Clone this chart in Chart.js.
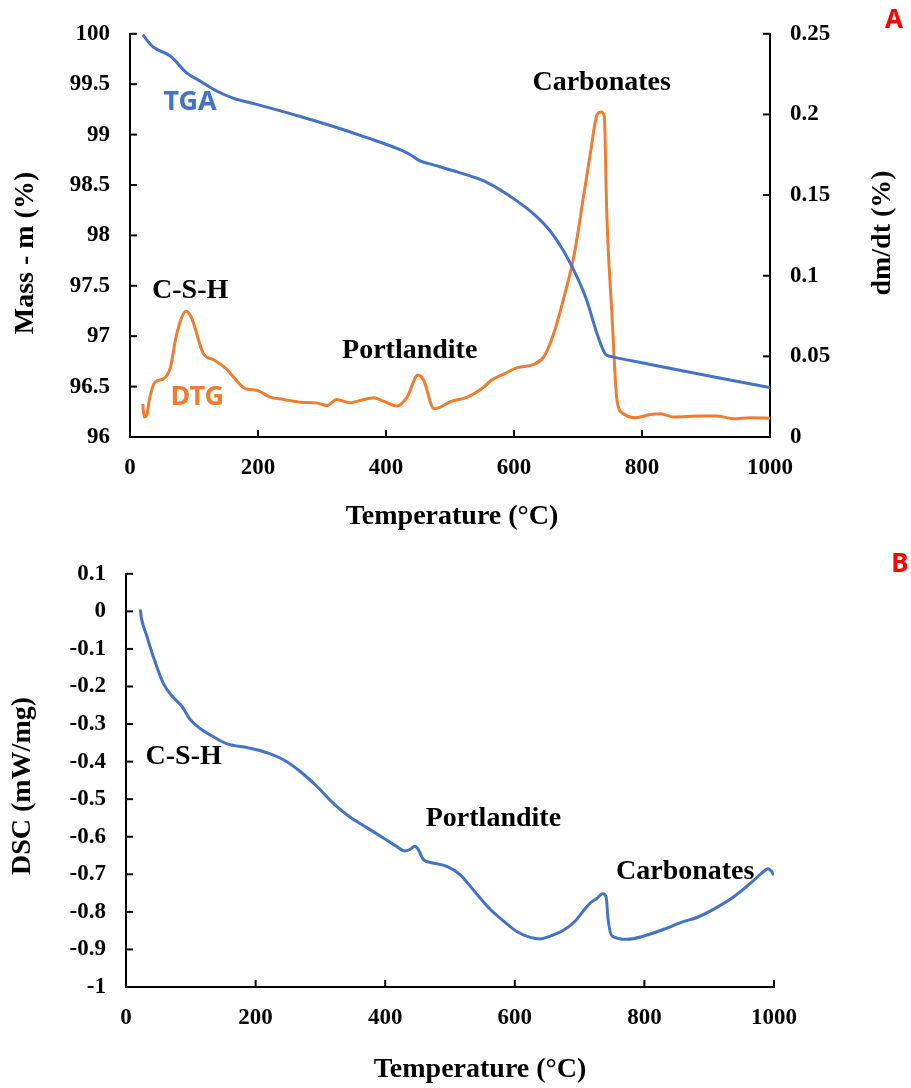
<!DOCTYPE html>
<html>
<head>
  <title>TGA / DTG / DSC</title>
  <style>
    body { margin: 0; background: #fff; }
    #chartA { position: absolute; left: 0; top: 0; }
    #chartB { position: absolute; left: 0; top: 540px; }
  </style>
</head>
<body>
  <canvas id="chartA" width="911" height="540"></canvas>
  <canvas id="chartB" width="911" height="548"></canvas>

  <script src="https://cdn.jsdelivr.net/npm/chart.js"></script>
  <script>
    // TGA curve (mass %, left axis)
    const tgaTemp = [20, 36, 63, 89, 110, 136, 162, 198, 266, 318, 370, 422, 438, 453, 474, 516,
      553, 605, 631, 657, 678, 699, 714, 730, 743, 751, 813, 917, 1000];
    const tgaMass = [99.99, 99.87, 99.78, 99.61, 99.53, 99.43, 99.36, 99.30, 99.18, 99.08, 98.97, 98.85, 98.80, 98.74, 98.70, 98.62,
      98.54, 98.34, 98.21, 98.04, 97.84, 97.58, 97.35, 97.02, 96.82, 96.80, 96.72, 96.59, 96.49];

    // DTG curve (dm/dt %, right axis)
    const dtgTemp = [20, 22, 26, 31, 39, 52, 63, 73, 88, 96, 115, 130, 151, 162, 180, 198, 219, 240, 266, 292,
      308, 323, 344, 360, 381, 396, 417, 433, 450, 459, 475, 485, 501, 527, 553, 564, 584, 605, 631, 647,
      662, 678, 694, 709, 719, 730, 736, 741, 745, 753, 761, 771, 790, 813, 829, 849, 891, 917, 943, 969, 1000];
    const dtgRate = [0.0206, 0.0124, 0.0134, 0.0247, 0.034, 0.036, 0.043, 0.064, 0.078, 0.074, 0.0515, 0.048, 0.042, 0.037, 0.030, 0.029, 0.0247, 0.0233, 0.0216, 0.021,
      0.0196, 0.0233, 0.0212, 0.0227, 0.0243, 0.0222, 0.0192, 0.0247, 0.0385, 0.035, 0.0175, 0.0185, 0.022, 0.0247, 0.031, 0.035, 0.039, 0.043, 0.045, 0.050,
      0.064, 0.0865, 0.113, 0.150, 0.175, 0.200, 0.2015, 0.199, 0.138, 0.076, 0.0227, 0.0144, 0.012, 0.014, 0.0144, 0.0124, 0.013, 0.013, 0.0113, 0.012, 0.0117];

    // DSC curve (mW/mg)
    const dscTemp = [22, 24, 32, 42, 58, 73, 86, 99, 114, 135, 155, 191, 217, 243, 268, 294, 320, 345, 371, 396,
      417, 430, 438, 446, 451, 459, 474, 495, 515, 541, 562, 583, 603, 624, 639, 654, 675, 693, 706, 716,
      726, 736, 741, 744, 750, 773, 798, 829, 860, 881, 912, 937, 963, 981, 991, 995, 1000];
    const dscHeat = [0.005, -0.02, -0.065, -0.12, -0.193, -0.229, -0.252, -0.288, -0.311, -0.334, -0.352, -0.364, -0.376, -0.395, -0.425, -0.465, -0.511, -0.547, -0.575, -0.602,
      -0.625, -0.638, -0.634, -0.625, -0.634, -0.661, -0.670, -0.679, -0.700, -0.752, -0.793, -0.825, -0.852, -0.868, -0.872, -0.865, -0.849, -0.825, -0.797, -0.777,
      -0.765, -0.752, -0.761, -0.82, -0.864, -0.873, -0.865, -0.847, -0.826, -0.815, -0.788, -0.761, -0.725, -0.697, -0.685, -0.69, -0.702];

    const BLUE = '#4472C4';
    const ORANGE = '#ED7D31';
    const SERIF = '"Liberation Serif", "Times New Roman", serif';
    const SANS = '"Noto Sans", "Open Sans", sans-serif';

    const toPoints = (xs, ys) => xs.map((x, i) => ({ x: x, y: ys[i] }));

    // short tick marks pointing into the plot
    const inwardTicks = {
      id: 'inwardTicks',
      afterDraw(chart) {
        const ctx = chart.ctx;
        const a = chart.chartArea;
        ctx.save();
        ctx.strokeStyle = '#000';
        ctx.lineWidth = 2;
        Object.values(chart.scales).forEach(s => {
          s.ticks.forEach(t => {
            const p = s.getPixelForValue(t.value);
            ctx.beginPath();
            if (s.axis === 'x') {
              ctx.moveTo(p, a.bottom); ctx.lineTo(p, a.bottom - 7);
            } else if (s.position === 'left') {
              ctx.moveTo(a.left, p); ctx.lineTo(a.left + 7, p);
            } else {
              ctx.moveTo(a.right, p); ctx.lineTo(a.right - 7, p);
            }
            ctx.stroke();
          });
        });
        ctx.restore();
      }
    };

    // axis titles and curve labels; data:true means x/y are chart values
    function textLayer(items) {
      return {
        id: 'textLayer',
        afterDraw(chart) {
          const ctx = chart.ctx;
          items.forEach(it => {
            let x = it.x, y = it.y;
            if (it.data) {
              x = chart.scales.x.getPixelForValue(it.x);
              y = chart.scales[it.axis || 'y'].getPixelForValue(it.y);
            }
            ctx.save();
            ctx.translate(x, y);
            if (it.rotate) ctx.rotate(it.rotate);
            ctx.font = it.font;
            ctx.fillStyle = it.color || '#000';
            ctx.textAlign = 'center';
            ctx.textBaseline = 'middle';
            ctx.fillText(it.text, 0, 0);
            ctx.restore();
          });
        }
      };
    }

    const tickFont = { family: SERIF, size: 23, weight: 'bold' };
    const labelFont = 'bold 28px ' + SERIF;
    const fixedWidth = w => (s => { s.width = w; });
    const fixedHeight = h => (s => { s.height = h; });

    function xAxis(height) {
      return {
        type: 'linear', min: 0, max: 1000,
        afterFit: fixedHeight(height),
        grid: { display: false, drawTicks: false },
        border: { display: true, color: '#000', width: 2 },
        ticks: { stepSize: 200, padding: 17, color: '#000', font: tickFont, maxRotation: 0,
          callback: v => String(v) }
      };
    }

    // ---- Chart A: TGA + DTG ----
    new Chart(document.getElementById('chartA'), {
      type: 'line',
      data: {
        datasets: [
          { label: 'TGA', data: toPoints(tgaTemp, tgaMass), yAxisID: 'y',
            borderColor: BLUE, borderWidth: 3, pointRadius: 0, cubicInterpolationMode: 'monotone' },
          { label: 'DTG', data: toPoints(dtgTemp, dtgRate), yAxisID: 'y2',
            borderColor: ORANGE, borderWidth: 3, pointRadius: 0, cubicInterpolationMode: 'monotone' }
        ]
      },
      options: {
        responsive: false,
        animation: false,
        layout: { autoPadding: false, padding: { top: 20, left: 0, right: 0, bottom: 0 } },
        plugins: { legend: { display: false }, tooltip: { enabled: false } },
        scales: {
          x: xAxis(103),
          y: {
            position: 'left', min: 96, max: 100,
            afterFit: fixedWidth(130),
            grid: { display: false, drawTicks: false },
            border: { display: true, color: '#000', width: 2 },
            ticks: { stepSize: 0.5, padding: 20, color: '#000', font: tickFont,
              callback: v => String(Math.round(v * 10) / 10) }
          },
          y2: {
            position: 'right', min: 0, max: 0.25,
            afterFit: fixedWidth(141),
            grid: { display: false, drawTicks: false },
            border: { display: true, color: '#000', width: 2 },
            ticks: { stepSize: 0.05, padding: 20, color: '#000', font: tickFont,
              callback: v => String(Math.round(v * 100) / 100) }
          }
        }
      },
      plugins: [inwardTicks, textLayer([
        { text: 'TGA', x: 94, y: 99.32, data: true, font: 'bold 27px ' + SANS, color: BLUE },
        { text: 'DTG', x: 105, y: 96.39, data: true, font: 'bold 27px ' + SANS, color: ORANGE },
        { text: 'C-S-H', x: 94, y: 97.45, data: true, font: labelFont },
        { text: 'Portlandite', x: 437, y: 96.86, data: true, font: labelFont },
        { text: 'Carbonates', x: 737, y: 99.51, data: true, font: labelFont },
        { text: 'Mass - m (%)', x: 26, y: 253, rotate: -Math.PI / 2, font: labelFont },
        { text: 'dm/dt (%)', x: 883, y: 233, rotate: -Math.PI / 2, font: labelFont },
        { text: 'Temperature (°C)', x: 452, y: 517, font: labelFont },
        { text: 'A', x: 894, y: 21, font: 'bold 26px ' + SANS, color: '#FF0000' }
      ])]
    });

    // ---- Chart B: DSC ----
    new Chart(document.getElementById('chartB'), {
      type: 'line',
      data: {
        datasets: [
          { label: 'DSC', data: toPoints(dscTemp, dscHeat), yAxisID: 'y',
            borderColor: BLUE, borderWidth: 3, pointRadius: 0, cubicInterpolationMode: 'monotone' }
        ]
      },
      options: {
        responsive: false,
        animation: false,
        layout: { autoPadding: false, padding: { top: 25, left: 0, right: 137, bottom: 0 } },
        plugins: { legend: { display: false }, tooltip: { enabled: false } },
        scales: {
          x: xAxis(101),
          y: {
            position: 'left', min: -1, max: 0.1,
            afterFit: fixedWidth(126),
            grid: { display: false, drawTicks: false },
            border: { display: true, color: '#000', width: 2 },
            ticks: { stepSize: 0.1, padding: 20, color: '#000', font: tickFont,
              callback: v => String(Math.round(v * 10) / 10) }
          }
        }
      },
      plugins: [inwardTicks, textLayer([
        { text: 'C-S-H', x: 89, y: -0.388, data: true, font: labelFont },
        { text: 'Portlandite', x: 567, y: -0.552, data: true, font: labelFont },
        { text: 'Carbonates', x: 863, y: -0.692, data: true, font: labelFont },
        { text: 'DSC (mW/mg)', x: 23, y: 246, rotate: -Math.PI / 2, font: labelFont },
        { text: 'Temperature (°C)', x: 480, y: 530, font: labelFont },
        { text: 'B', x: 900, y: 25, font: 'bold 26px ' + SANS, color: '#FF0000' }
      ])]
    });
  </script>
</body>
</html>
